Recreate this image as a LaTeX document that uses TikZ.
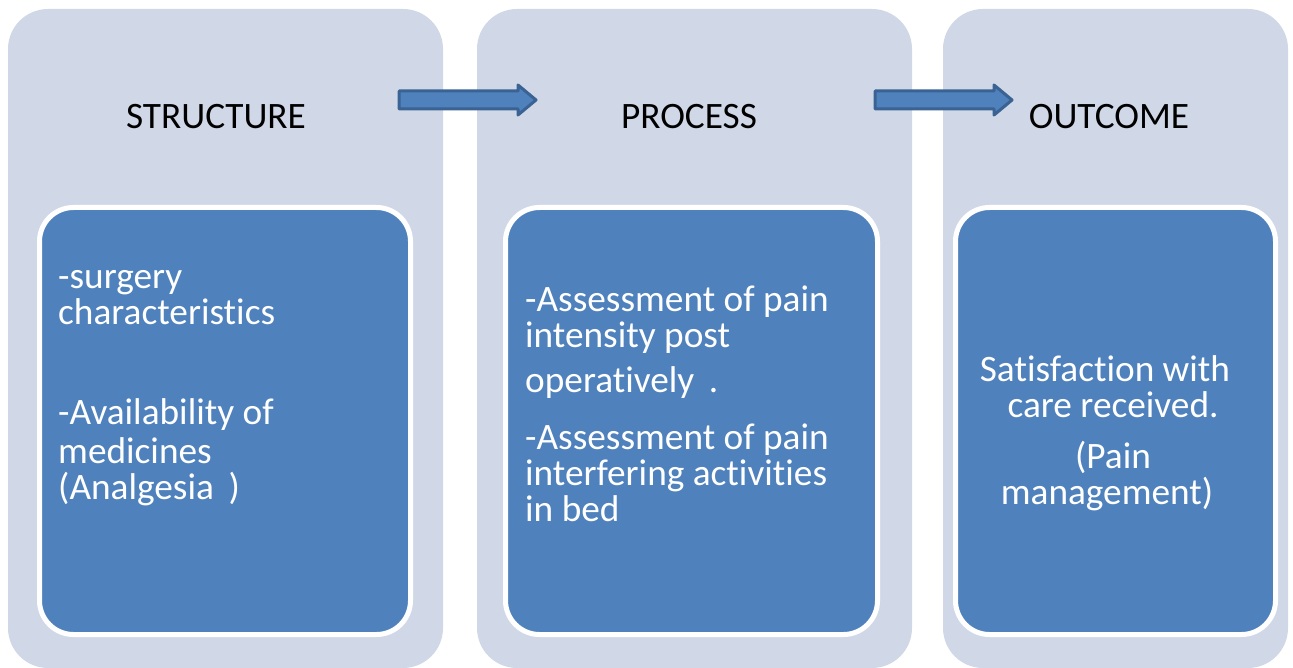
\documentclass[tikz,border=0pt]{standalone}
\usepackage{fontspec}
\setmainfont[Ligatures=NoCommon]{Carlito}
\definecolor{colfill}{HTML}{D0D8E8}
\definecolor{boxfill}{HTML}{4F81BD}
\definecolor{arrline}{HTML}{3A6293}
\begin{document}
\begin{tikzpicture}[x=1pt,y=1pt,yscale=-1,
  column/.style={fill=colfill,rounded corners=40pt},
  inner/.style={fill=boxfill,draw=white,line width=5pt,rounded corners=34pt},
  blockarrow/.style={fill=boxfill,draw=arrline,line width=3pt,line join=round},
  head/.style={font=\fontsize{37.3}{36}\selectfont,text=black,inner sep=0pt},
  body/.style={font=\fontsize{37.3}{36}\selectfont,text=white,inner sep=0pt,anchor=north west,align=left},
]
\useasboundingbox (0,0) rectangle (1293,668);
% three columns
\fill[column] (8,9) rectangle (443,668);
\fill[column] (477,9) rectangle (912,668);
\fill[column] (943,9) rectangle (1288,668);
% inner boxes
\draw[inner] (39.5,207.5) rectangle (410.5,634.5);
\draw[inner] (505.5,207.5) rectangle (877.5,634.5);
\draw[inner] (955.5,207.5) rectangle (1275.5,634.5);
% block arrows between the columns
\draw[blockarrow] (399,91) -- (518,91) -- (518,85) -- (536,100) -- (518,115) -- (518,109) -- (399,109) -- cycle;
\draw[blockarrow] (875,91) -- (994,91) -- (994,85) -- (1012,100) -- (994,115) -- (994,109) -- (875,109) -- cycle;
% headings
\node[head] (h1) at (216,117) {STRUCTURE};
\node[head] (h2) at (689,117) {PROCESS};
\node[head] (h3) at (1109,117) {OUTCOME};
% contents
\node[body] (t1) at (58,270) {-surgery\\characteristics\\[64pt]-Availability of\\[3pt]medicines\\(Analgesia\, )};
\node[body] (t2) at (525,286) {-Assessment of pain\\intensity post\\[9pt]operatively\, .\\[21pt]-Assessment of pain\\interfering activities\\in bed};
\node[body,anchor=north,align=center] (t3) at (1113,355) {Satisfaction with\hspace*{16pt}\\care received.\\[15pt](Pain\\management)\hspace*{12pt}};
\end{tikzpicture}
\end{document}
